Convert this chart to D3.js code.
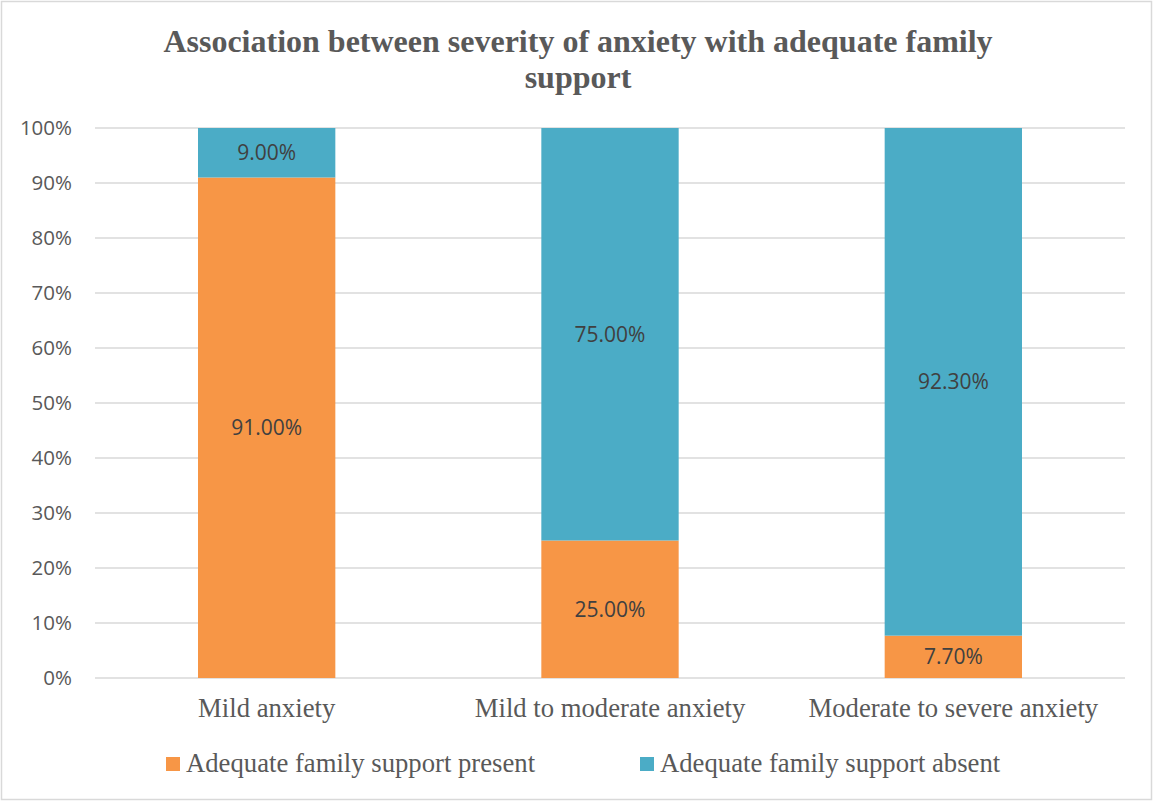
<!DOCTYPE html>
<html>
<head>
<meta charset="utf-8">
<script src="https://cdn.jsdelivr.net/npm/d3@7/dist/d3.min.js"></script>
<style>
  html, body { margin: 0; padding: 0; background: #fff; }
  svg { display: block; }
</style>
</head>
<body>
<script>
// Severity groups and the share of respondents with / without adequate family support
const categories = ["Mild anxiety", "Mild to moderate anxiety", "Moderate to severe anxiety"];
const supportPresent = [91.0, 25.0, 7.7];
const supportAbsent = [9.0, 75.0, 92.3];
const seriesNames = ["Adequate family support present", "Adequate family support absent"];
const seriesColors = ["#F79646", "#4BACC6"];
const yTicks = [0, 10, 20, 30, 40, 50, 60, 70, 80, 90, 100];
const titleLines = ["Association between severity of anxiety with adequate family", "support"];

const W = 1153, H = 801;
const margin = { top: 128, right: 28, bottom: 123, left: 95 };
const plotW = W - margin.left - margin.right;
const plotH = H - margin.top - margin.bottom;

const svg = d3.select("body").append("svg").attr("width", W).attr("height", H);

// chart frame
svg.append("rect")
  .attr("x", 1.5).attr("y", 1.5)
  .attr("width", W - 3).attr("height", H - 3)
  .attr("fill", "#fff").attr("stroke", "#D9D9D9").attr("stroke-width", 1.5);

// title
svg.append("text")
  .attr("x", 578).attr("y", 52)
  .attr("text-anchor", "middle")
  .attr("font-family", "'Liberation Serif', 'Times New Roman', serif")
  .attr("font-weight", "bold").attr("font-size", 32)
  .attr("fill", "#595959")
  .selectAll("tspan").data(titleLines).join("tspan")
  .attr("x", 578).attr("dy", (d, i) => i === 0 ? 0 : 36)
  .text(d => d);

const g = svg.append("g").attr("transform", `translate(${margin.left},${margin.top})`);

const x = d3.scaleBand().domain(categories).range([0, plotW]).paddingInner(0.6).paddingOuter(0.3);
const y = d3.scaleLinear().domain([0, 100]).range([plotH, 0]);

// gridlines
g.append("g").selectAll("line").data(yTicks).join("line")
  .attr("x1", 0).attr("x2", plotW)
  .attr("y1", d => y(d)).attr("y2", d => y(d))
  .attr("stroke", "#D9D9D9").attr("stroke-width", 1.5);

// y-axis labels
const yAxis = g.append("g")
  .call(d3.axisLeft(y).tickValues(yTicks).tickFormat(d => d + "%").tickSize(0).tickPadding(23));
yAxis.select(".domain").remove();
yAxis.selectAll("text")
  .attr("font-family", "'Open Sans', sans-serif").attr("font-size", 20.5)
  .attr("fill", "#595959");

// stacked series
const rows = categories.map((c, i) => ({ cat: c, present: supportPresent[i], absent: supportAbsent[i] }));
const stack = d3.stack().keys(["present", "absent"])(rows);

stack.forEach((layer, li) => {
  const lg = g.append("g");
  lg.selectAll("rect").data(layer).join("rect")
    .attr("x", d => x(d.data.cat))
    .attr("width", x.bandwidth())
    .attr("y", d => y(d[1]))
    .attr("height", d => y(d[0]) - y(d[1]))
    .attr("fill", seriesColors[li]);
  lg.selectAll("text").data(layer).join("text")
    .attr("x", d => x(d.data.cat) + x.bandwidth() / 2)
    .attr("y", d => (y(d[0]) + y(d[1])) / 2)
    .attr("dy", "0.35em")
    .attr("text-anchor", "middle")
    .attr("font-family", "'Open Sans', sans-serif").attr("font-size", 21)
    .attr("fill", "#404040")
    .text(d => (d[1] - d[0]).toFixed(2) + "%");
});

// category axis
const xAxis = g.append("g").attr("transform", `translate(0,${plotH})`)
  .call(d3.axisBottom(x).tickSize(0).tickPadding(20));
xAxis.select(".domain").remove();
xAxis.selectAll("text")
  .attr("font-family", "'Liberation Serif', 'Times New Roman', serif")
  .attr("font-size", 26.7).attr("fill", "#595959")
  .attr("dy", null).attr("y", 39);

// legend
const legendX = [166, 640];
const legend = svg.append("g");
seriesNames.forEach((name, i) => {
  legend.append("rect")
    .attr("x", legendX[i]).attr("y", 757)
    .attr("width", 14).attr("height", 14)
    .attr("fill", seriesColors[i]);
  legend.append("text")
    .attr("x", legendX[i] + 20).attr("y", 772)
    .attr("font-family", "'Liberation Serif', 'Times New Roman', serif")
    .attr("font-size", 26.7).attr("fill", "#595959")
    .text(name);
});
</script>
</body>
</html>
